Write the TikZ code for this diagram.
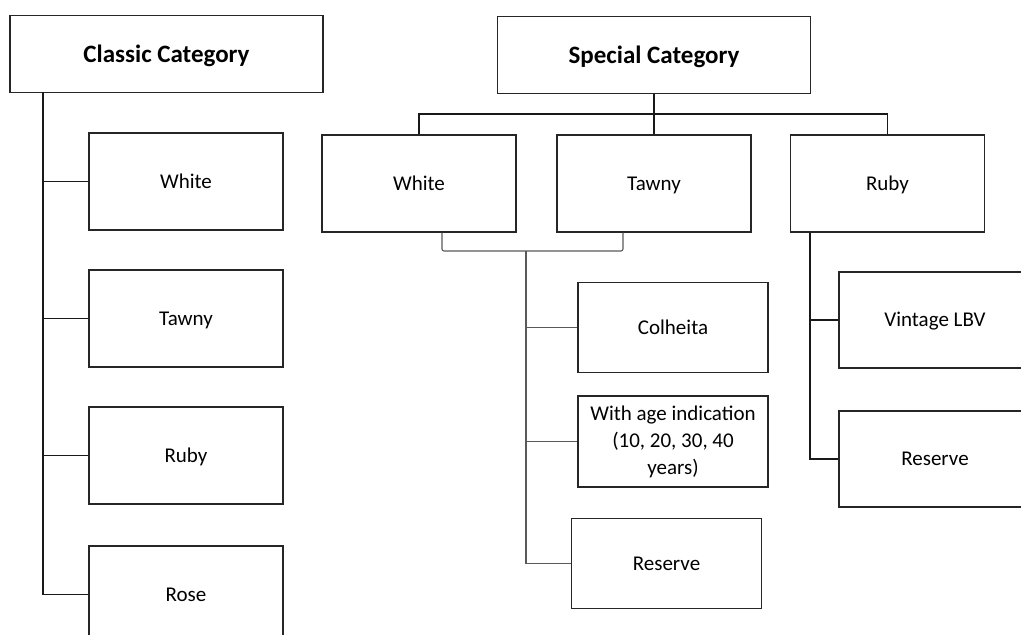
\documentclass[tikz,border=0pt]{standalone}
\usepackage{fontspec}
\setmainfont{Carlito}
\usepackage{tikz}
\usetikzlibrary{calc,positioning}

\tikzset{
  catbox/.style={draw=black!85,line width=1.3pt,minimum width=313pt,minimum height=77pt,
    font=\fontsize{25}{30}\selectfont\bfseries,text height=16pt,text depth=0pt},
  portbox/.style={draw=black!85,line width=1.3pt,minimum width=194pt,minimum height=97pt,
    font=\fontsize{21}{27}\selectfont,align=center,text height=13.5pt,text depth=0pt},
  subbox/.style={portbox,minimum width=190pt,minimum height=90pt},
  trunk/.style={line width=1.5pt,black!90},
  twig/.style={line width=1.1pt,black!65}
}

\begin{document}
\begin{tikzpicture}[x=1pt,y=-1pt]
	\useasboundingbox (0,0) rectangle (1021,635);
	\clip (0,0) rectangle (1021,635);
	% classic side
	\node[catbox] (classic) at (166.5,54) {Classic Category};
	\node[portbox] (cwhite) at (186,181.5) {White};
	\node[portbox] (ctawny) at (186,318.5) {Tawny};
	\node[portbox] (cruby) at (186,455.5) {Ruby};
	\node[portbox] (crose) at (186,594.5) {Rose};
	\coordinate (ctop) at (43,92);
	\draw[trunk] (ctop) |- (crose.west);
	\draw[trunk] (ctop |- cwhite.west) -- (cwhite.west);
	\draw[trunk] (ctop |- ctawny.west) -- (ctawny.west);
	\draw[trunk] (ctop |- cruby.west) -- (cruby.west);
	% special side
	\node[catbox] (special) at (654,55) {Special Category};
	\node[portbox] (swhite) at (419,183.5) {White};
	\node[portbox] (stawny) at (654,183.5) {Tawny};
	\node[portbox] (sruby) at (887.5,183.5) {Ruby};
	\draw[trunk] (special.south) -- ++(0,20) coordinate (sbar);
	\draw[trunk] (swhite.north) |- (sbar) -| (sruby.north);
	\draw[trunk] (sbar) -- (stawny.north);
	% white and tawny
	\node[subbox] (colheita) at (673,327.5) {Colheita};
	\node[subbox,minimum height=91pt,text height={},text depth={}] (aged) at (673,441.5)
		{With age indication\\(10, 20, 30, 40\\years)};
	\node[subbox] (sreserve) at (666.5,563.5) {Reserve};
	\coordinate (bmid) at (526,251);
	\draw[twig,rounded corners=2pt] ($(swhite.south)+(23,0)$) |- (bmid)
		-| ($(stawny.south)+(-31,0)$);
	\draw[twig] (bmid) |- (sreserve.west);
	\draw[twig] (bmid |- colheita.west) -- (colheita.west);
	\draw[twig] (bmid |- aged.west) -- (aged.west);
	% ruby
	\node[portbox,minimum width=192pt,minimum height=96pt] (vintage) at (935,320) {Vintage LBV};
	\node[portbox,minimum width=192pt,minimum height=96pt] (rreserve) at (935,459) {Reserve};
	\coordinate (rtop) at ($(sruby.south west)+(20,0)$);
	\draw[trunk] (rtop) |- (rreserve.west);
	\draw[trunk] (rtop |- vintage.west) -- (vintage.west);
\end{tikzpicture}
\end{document}
